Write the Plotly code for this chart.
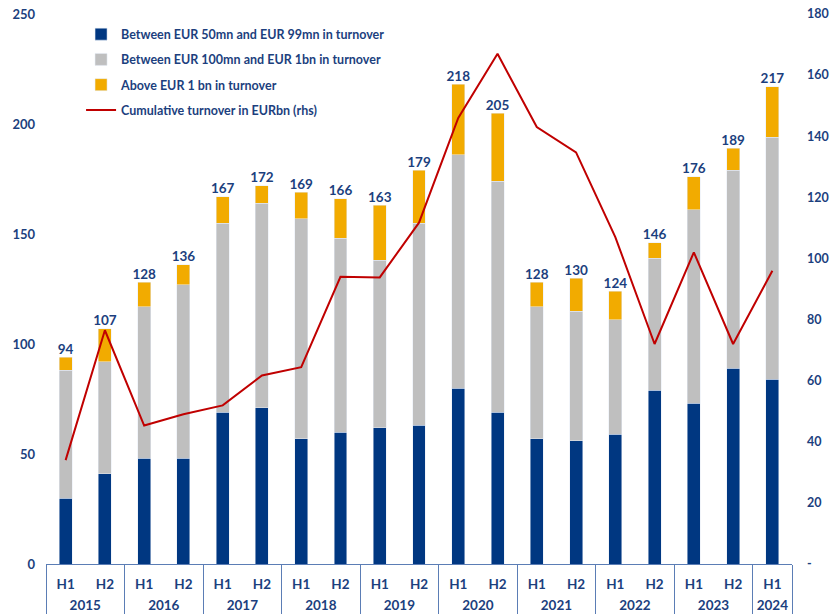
import plotly.graph_objects as go

years = ["2015", "2015", "2016", "2016", "2017", "2017", "2018", "2018", "2019", "2019",
         "2020", "2020", "2021", "2021", "2022", "2022", "2023", "2023", "2024"]
halves = ["H1", "H2"] * 9 + ["H1"]

mid_50_99 = [30, 41, 48, 48, 69, 71, 57, 60, 62, 63, 80, 69, 57, 56, 59, 79, 73, 89, 84]
mid_100_1bn = [58, 51, 69, 79, 86, 93, 100, 88, 76, 92, 106, 105, 60, 59, 52, 60, 88, 90, 110]
above_1bn = [6, 15, 11, 9, 12, 8, 12, 18, 25, 24, 32, 31, 11, 15, 13, 7, 15, 10, 23]
totals = [94, 107, 128, 136, 167, 172, 169, 166, 163, 179, 218, 205, 128, 130, 124, 146, 176, 189, 217]
turnover_bn = [34, 76.5, 45.3, 49, 51.9, 61.7, 64.4, 94, 93.8, 111.7, 146, 167, 143, 134.7, 107, 72, 102, 72, 96]

rhs_ticks = [0, 20, 40, 60, 80, 100, 120, 140, 160, 180]
rhs_labels = ["-", "20", "40", "60", "80", "100", "120", "140", "160", "180"]

NAVY = "#003781"
GREY = "#bfbfbf"
ORANGE = "#f2ab00"
RED = "#c00000"
TXT = "#1c3f7e"
FONT = "Lato"

# a small blank line under H1/H2 pushes the year row a bit further down
x = [years, [h + "<br><sup>\u00a0</sup>" for h in halves]]
fig = go.Figure()
fig.add_trace(go.Bar(x=x, y=mid_50_99, name="Between EUR 50mn and EUR 99mn in turnover",
                     marker_color=NAVY, width=0.33, legendgroup="a"))
fig.add_trace(go.Bar(x=x, y=mid_100_1bn, name="Between EUR 100mn and EUR 1bn in turnover",
                     marker_color=GREY, width=0.33, legendgroup="b"))
fig.add_trace(go.Bar(x=x, y=above_1bn, name="Above EUR 1 bn in turnover",
                     marker_color=ORANGE, width=0.33, legendgroup="c"))
fig.add_trace(go.Scatter(x=x, y=totals, mode="text", text=[str(t) for t in totals],
                         textposition="top center", showlegend=False, hoverinfo="skip",
                         textfont=dict(family=FONT, size=13.5, color=TXT, weight="bold")))
fig.add_trace(go.Scatter(x=x, y=turnover_bn, name="Cumulative turnover in EURbn (rhs)",
                         mode="lines", line=dict(color=RED, width=2), yaxis="y2", legendgroup="d"))

fig.update_layout(
    width=834, height=616,
    margin=dict(l=46, r=42, t=14, b=52, autoexpand=False),
    barmode="stack",
    plot_bgcolor="white", paper_bgcolor="white",
    font=dict(family=FONT, size=12, color=TXT, weight="bold"),
    legend=dict(x=0.047, y=0.99, xanchor="left", yanchor="top", tracegroupgap=6,
                font=dict(size=12.5, color=TXT), bgcolor="rgba(0,0,0,0)"),
    xaxis=dict(type="multicategory", range=[-0.5, 18.5], showline=True,
               linecolor="#5b7db5", linewidth=1,
               showdividers=True, dividercolor="#5b7db5", dividerwidth=1, automargin=False,
               showgrid=False, ticks="", ticklabelstandoff=8,
               tickfont=dict(size=13.5, color=TXT)),
    yaxis=dict(range=[0, 250], dtick=50, showgrid=False, zeroline=False, showline=False,
               automargin=False, ticks="", ticklabelstandoff=10, ticklabeloverflow="allow",
               tickfont=dict(size=13, color=TXT)),
    yaxis2=dict(range=[0, 180], overlaying="y", side="right", tickvals=rhs_ticks,
                ticktext=rhs_labels, showgrid=False, zeroline=False, showline=False,
                automargin=False, ticks="", ticklabelstandoff=14, ticklabeloverflow="allow",
                tickfont=dict(size=12.5, color=TXT)),
)

fig.write_html("out.html", config={"displayModeBar": False},
               post_script="document.body.style.margin='0';")
